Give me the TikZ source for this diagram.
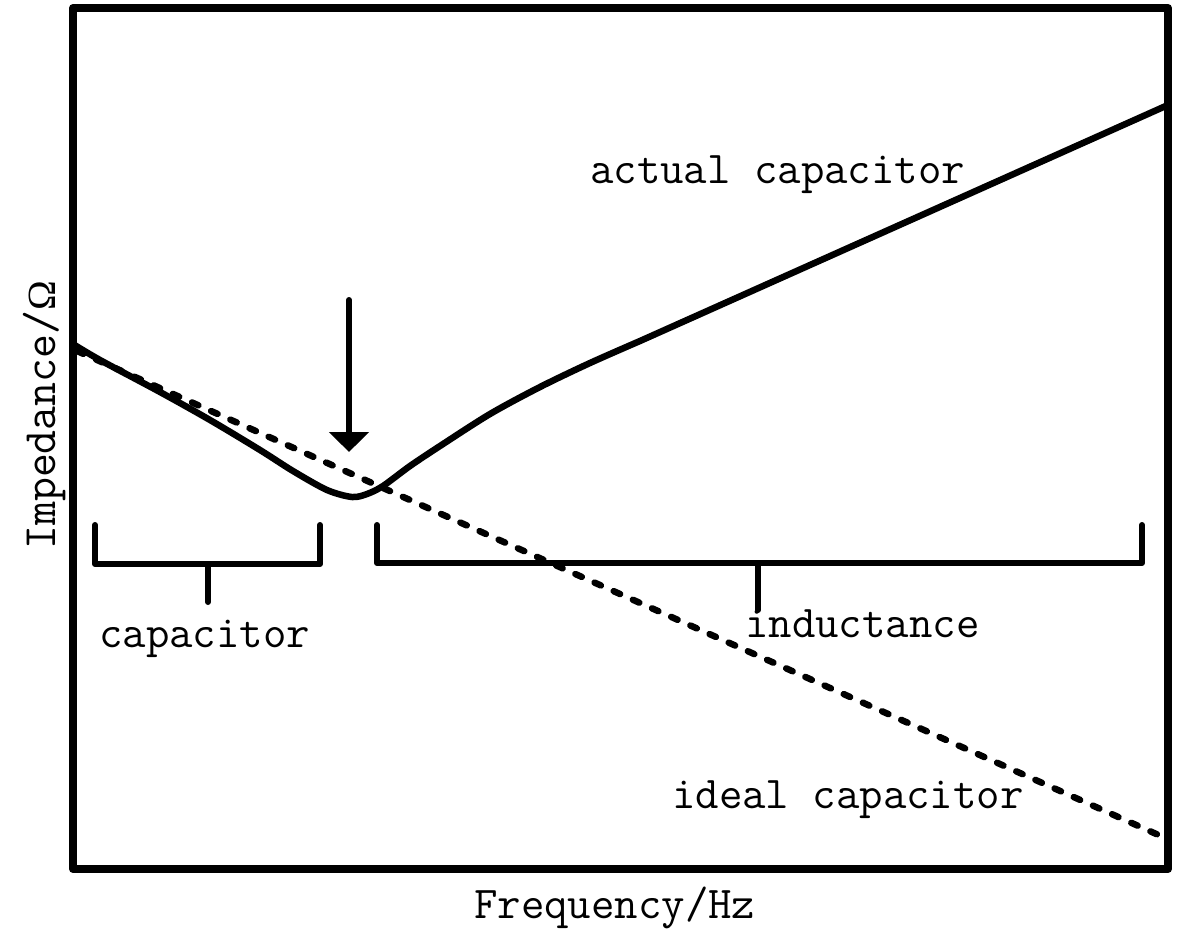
\documentclass[tikz,border=0pt]{standalone}
\usepackage{fontspec}
\newfontfamily\omegafont{Liberation Serif}
\usetikzlibrary{arrows.meta}
\begin{document}
\begin{tikzpicture}[x=1pt,y=-1pt,
  frame/.style={line width=8pt,line join=round,line cap=round},
  curve/.style={line width=6.5pt,line cap=round,line join=round},
  ideal/.style={line width=6.5pt,line cap=round,dash pattern=on 7pt off 14pt},
  brace/.style={line width=6pt,line cap=round,line join=round},
  lbl/.style={inner sep=0pt,anchor=base west,font=\ttfamily\fontsize{45.5}{50}\selectfont}]
\useasboundingbox (0,0) rectangle (1185,934);
% frame
\draw[frame] (73,8) rectangle (1168,869);
% ideal capacitor (dashed)
\coordinate (d1) at (77,351);
\coordinate (d2) at (1163,837);
\draw[ideal] (d1) -- (d2);
% actual capacitor
\draw[curve] plot[smooth,tension=0.5] coordinates {(73,344) (100,360) (160,392) (210,420) (260,450) (293,471) (327,490) (352,497) (367,494) (383,486) (410,466) (440,446) (490,414) (540,387) (590,363) (640,341)} -- (1168,105);
% arrow
\coordinate (aS) at (349,300);
\coordinate (aE) at (349,452);
\draw[line width=6pt,line cap=round,-{Triangle[length=20pt,width=39pt]}] (aS) -- (aE);
% brackets
\draw[brace] (95,525) -- (95,564) -- (320,564) -- (320,525);
\draw[brace] (208,564) -- (208,602);
\draw[brace] (377,525) -- (377,563) -- (1142,563) -- (1142,525);
\draw[brace] (758,563) -- (758,610);
% labels
\node[lbl] (tact) at (590,183) {actual capacitor};
\node[lbl] (tcap) at (99,647) {capacitor};
\node[lbl] (tind) at (745,637) {inductance};
\node[lbl] (tide) at (672,808) {ideal capacitor};
\node[lbl] (tx) at (474,918) {Frequency/Hz};
\node[lbl,rotate=90,font=\ttfamily\fontsize{46.5}{50}\selectfont] (ty) at (55,550) {Impedance/{\omegafont\fontsize{40}{44}\selectfont Ω}};
\end{tikzpicture}
\end{document}
